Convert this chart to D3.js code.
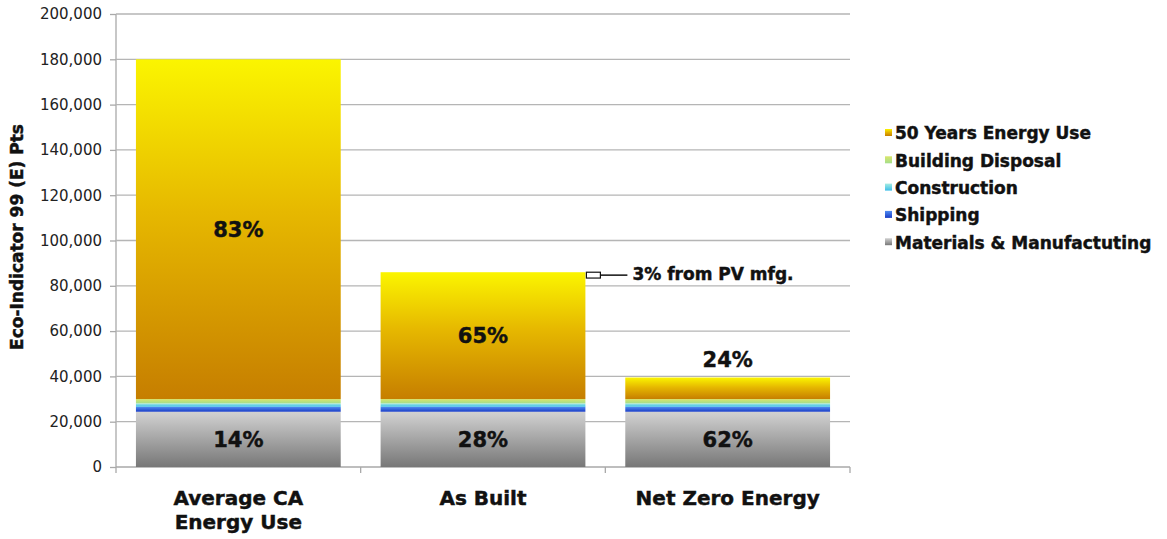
<!DOCTYPE html>
<html>
<head>
<meta charset="utf-8">
<script src="https://cdn.jsdelivr.net/npm/d3@7"></script>
<style>
  html, body { margin: 0; padding: 0; background: #fff; }
  svg { display: block; }
  text { font-family: "DejaVu Sans", sans-serif; }
  .heavy { font-weight: bold; fill: #111; stroke: #111; stroke-width: 0.45px; }
</style>
</head>
<body>
<svg id="chart" width="1167" height="539"></svg>
<script>
// Life-cycle impact per scenario, stacked from the ground up
const categories = [["Average CA", "Energy Use"], ["As Built"], ["Net Zero Energy"]];
const materials = [24400, 24400, 24400];
const shipping = [2200, 2200, 2200];
const construction = [1500, 1500, 1500];
const disposal = [1900, 1900, 1900];
const energy = [150000, 56000, 9500];
const yTicks = [0, 20000, 40000, 60000, 80000, 100000, 120000, 140000, 160000, 180000, 200000];
const seriesNames = ["Materials & Manufactuting", "Shipping", "Construction", "Building Disposal", "50 Years Energy Use"];
const pvShare = 0.03;
const pvNote = "3% from PV mfg.";

const svg = d3.select("#chart");
const W = 1167, H = 539;
const m = { left: 116, right: 317, top: 14, bottom: 72 };
const plotW = W - m.left - m.right;
const plotH = H - m.top - m.bottom;

const x = d3.scaleBand().domain(d3.range(categories.length)).range([m.left, m.left + plotW]).paddingInner(0.163).paddingOuter(0.0815);
const y = d3.scaleLinear().domain([0, 200000]).range([m.top + plotH, m.top]);

// vertical gradients per series
const gradStops = [
  ["#d2d2d2", "#777777"],
  ["#4f8cf2", "#1a3cc4"],
  ["#a6ece2", "#3cbde8"],
  ["#d9e66a", "#a4de8c"],
  ["#fbf500", "#c67e00"]
];
const defs = svg.append("defs");
gradStops.forEach((s, i) => {
  const g = defs.append("linearGradient").attr("id", "g" + i)
    .attr("x1", 0).attr("y1", 0).attr("x2", 0).attr("y2", 1);
  g.append("stop").attr("offset", 0).attr("stop-color", s[0]);
  if (i === 4) g.append("stop").attr("offset", 0.45).attr("stop-color", "#e6b800");
  g.append("stop").attr("offset", 1).attr("stop-color", s[1]);
});

// gridlines and left ticks
const yAxis = d3.axisLeft(y).tickValues(yTicks).tickSize(6).tickFormat(d3.format(","));
const ya = svg.append("g").attr("transform", `translate(${m.left},0)`).call(yAxis);
ya.select(".domain").attr("stroke", "#a9a9a9").attr("stroke-width", 1.3).attr("d", `M0,${y(0)}V${y(200000)}`);
ya.selectAll(".tick line").attr("stroke", "#a9a9a9").attr("stroke-width", 1.3);
ya.selectAll(".tick text").attr("font-size", 15).attr("fill", "#222").attr("x", -14);
svg.append("g").selectAll("line").data(yTicks.filter(d => d > 0)).join("line")
  .attr("x1", m.left).attr("x2", m.left + plotW)
  .attr("y1", d => y(d)).attr("y2", d => y(d))
  .attr("stroke", "#b5b5b5").attr("stroke-width", 1.3);

// category axis with separators between bands
const xa = svg.append("g");
xa.append("line").attr("x1", m.left).attr("x2", m.left + plotW).attr("y1", y(0)).attr("y2", y(0))
  .attr("stroke", "#a9a9a9").attr("stroke-width", 1.3);
xa.selectAll("line.sep").data(d3.range(categories.length + 1)).join("line").attr("class", "sep")
  .attr("x1", i => m.left + plotW * i / categories.length).attr("x2", i => m.left + plotW * i / categories.length)
  .attr("y1", y(0)).attr("y2", y(0) + 6).attr("stroke", "#a9a9a9").attr("stroke-width", 1.3);

// stacked bars
const rows = categories.map((c, i) => ({ i, vals: [materials[i], shipping[i], construction[i], disposal[i], energy[i]] }));
const stacked = rows.map(r => {
  let acc = 0;
  return r.vals.map((v, k) => { const s = { i: r.i, k, y0: acc, y1: acc + v }; acc += v; return s; });
});
const bars = svg.append("g");
stacked.forEach(segs => {
  bars.selectAll(null).data(segs).join("rect")
    .attr("x", d => x(d.i)).attr("width", x.bandwidth())
    .attr("y", d => y(d.y1)).attr("height", d => y(d.y0) - y(d.y1))
    .attr("fill", d => `url(#g${d.k})`);
});

// percentage labels
const pct = d3.format(".0%");
const labels = svg.append("g").attr("class", "heavy").attr("font-size", 21).attr("text-anchor", "middle");
stacked.forEach(segs => {
  const total = segs[segs.length - 1].y1;
  const mat = segs[0], en = segs[4];
  labels.append("text").attr("x", x(mat.i) + x.bandwidth() / 2)
    .attr("y", (y(mat.y0) + y(mat.y1)) / 2).attr("dy", "0.36em")
    .text(pct(Math.round(materials[mat.i] / total * 100) / 100));
  const segH = y(en.y0) - y(en.y1);
  const ly = segH > 40 ? (y(en.y0) + y(en.y1)) / 2 : y(en.y1) - 18;
  labels.append("text").attr("x", x(en.i) + x.bandwidth() / 2)
    .attr("y", ly).attr("dy", "0.36em")
    .text(pct(Math.round(energy[en.i] / total * 100) / 100));
});

// PV manufacturing callout on the second bar
const pvTotal = stacked[1][4].y1;
const bx = x(1) + x.bandwidth();
const byTop = y(pvTotal), byBot = y(pvTotal * (1 - pvShare));
svg.append("rect").attr("x", bx + 1).attr("y", byTop).attr("width", 14).attr("height", byBot - byTop)
  .attr("fill", "#fff").attr("stroke", "#111").attr("stroke-width", 1.2);
svg.append("line").attr("x1", bx + 15).attr("x2", bx + 42).attr("y1", (byTop + byBot) / 2).attr("y2", (byTop + byBot) / 2)
  .attr("stroke", "#111").attr("stroke-width", 1.5);
svg.append("text").attr("class", "heavy").attr("x", bx + 47).attr("y", (byTop + byBot) / 2 - 1).attr("dy", "0.36em")
  .attr("font-size", 17).text(pvNote);

// category labels
const cl = svg.append("g").attr("class", "heavy").attr("font-size", 20).attr("text-anchor", "middle");
categories.forEach((lines, i) => {
  const t = cl.append("text").attr("x", x(i) + x.bandwidth() / 2).attr("y", 505);
  lines.forEach((ln, j) => t.append("tspan").attr("x", x(i) + x.bandwidth() / 2).attr("dy", j === 0 ? 0 : 24).text(ln));
});

// y-axis title
svg.append("text").attr("class", "heavy").attr("transform", "translate(23,237)rotate(-90)")
  .attr("text-anchor", "middle").attr("font-size", 17)
  .text("Eco-Indicator 99 (E) Pts");

// legend, top entry is the top of the stack
const legend = svg.append("g");
const legendOrder = [4, 3, 2, 1, 0];
legendOrder.forEach((k, r) => {
  const ly = 134 + r * 27.3;
  legend.append("rect").attr("x", 885).attr("y", ly - 5).attr("width", 7).attr("height", 7).attr("fill", `url(#g${k})`);
  legend.append("text").attr("class", "heavy").attr("x", 895).attr("y", ly).attr("dy", "0.32em")
    .attr("font-size", 17).text(seriesNames[k]);
});
</script>
</body>
</html>
